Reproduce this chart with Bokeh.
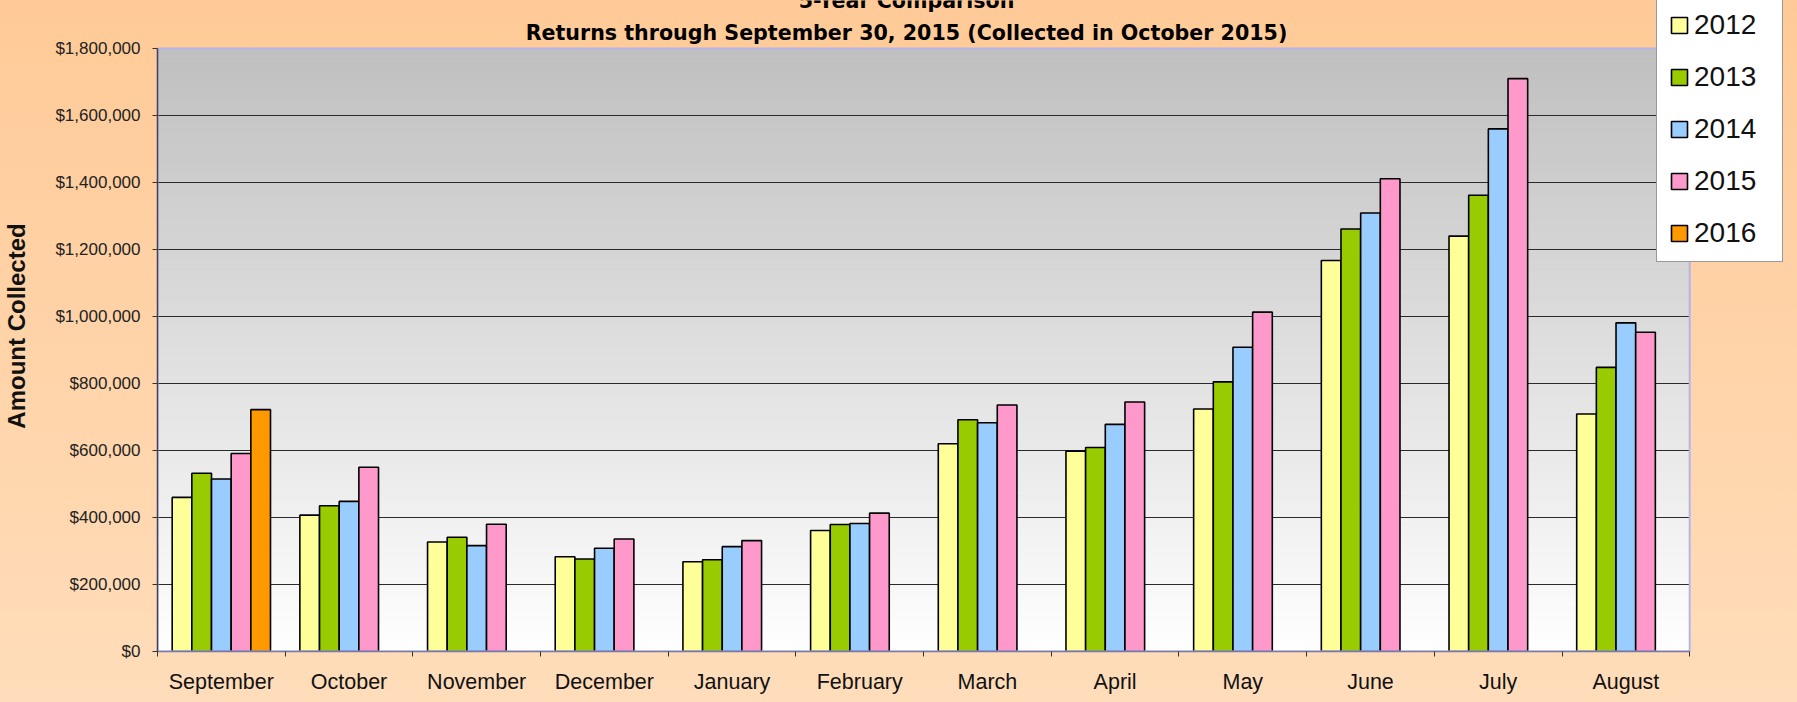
import numpy as np
from bokeh.plotting import figure
from bokeh.models import (Range1d, FixedTicker, NumeralTickFormatter, Legend,
                          LegendItem, Label, ColumnDataSource)
from bokeh.embed import file_html
from bokeh.resources import INLINE

# ---------------- data ----------------
months = ["September", "October", "November", "December", "January", "February",
          "March", "April", "May", "June", "July", "August"]
years = ["2012", "2013", "2014", "2015", "2016"]
v2012 = [460000, 407000, 327000, 283000, 268000, 361000, 620000, 598000, 724000, 1167000, 1240000, 709000]
v2013 = [532000, 435000, 341000, 276000, 274000, 379000, 692000, 609000, 805000, 1261000, 1362000, 848000]
v2014 = [515000, 448000, 316000, 308000, 313000, 382000, 683000, 678000, 908000, 1309000, 1560000, 981000]
v2015 = [591000, 550000, 380000, 336000, 331000, 413000, 736000, 745000, 1013000, 1411000, 1710000, 953000]
v2016 = [722000]  # only September collected so far
y_ticks = [0, 200000, 400000, 600000, 800000, 1000000, 1200000, 1400000, 1600000, 1800000]
title_line1 = "5-Year Comparison"
title_line2 = "Returns through September 30, 2015 (Collected in October 2015)"
y_label = "Amount Collected"

series = [v2012, v2013, v2014, v2015, v2016]
colors = ["#FFFF99", "#99CC00", "#99CCFF", "#FF99CC", "#FF9900"]

# ---------------- layout (pixels) ----------------
W, H = 1797, 702
left_px, right_px, top_px, bottom_px = 154, 1689, 48, 651   # plot area on page
frame_w = W - left_px
frame_h = bottom_px
plot_w = right_px - left_px
plot_h = bottom_px - top_px

n_cat = len(months)
ymax = y_ticks[-1]
x_end = n_cat * frame_w / plot_w
y_end = ymax * frame_h / plot_h

p = figure(width=W, height=H, output_backend="svg", toolbar_location=None,
           x_range=Range1d(0, x_end), y_range=Range1d(0, y_end))
p.min_border_left = left_px
p.min_border_right = 0
p.min_border_top = 0
p.min_border_bottom = H - bottom_px
p.border_fill_alpha = 0
p.background_fill_alpha = 0
p.styles = {"background": "linear-gradient(to bottom, #FFCA97, #FFDDBA)"}
p.outline_line_color = None

# plot-area gradient (white at bottom to grey at top)
nb = 120
edges = np.linspace(0, ymax, nb + 1)
t = (edges[:-1] + edges[1:]) / 2 / ymax
g = (255 - t * (255 - 192)).astype(int)
gcols = ["#%02x%02x%02x" % (v, v, v) for v in g]
p.quad(left=0, right=n_cat, bottom=edges[:-1], top=edges[1:],
       fill_color=gcols, line_color=gcols, line_width=1, level="image")

# horizontal grid lines at the tick values
gy = y_ticks[1:-1]
p.segment(x0=[0] * len(gy), x1=[n_cat] * len(gy), y0=gy, y1=gy,
          line_color="#2a2a2a", line_width=1, level="underlay")

# bars
centers = np.arange(n_cat) + 0.5
bw = 0.154
renderers = []
for k, (vals, col) in enumerate(zip(series, colors)):
    xs = centers[:len(vals)] + (k - 2) * bw
    src = ColumnDataSource(dict(x=xs, top=vals))
    r = p.vbar(x="x", top="top", width=bw, bottom=0, source=src,
               fill_color=col, line_color="black", line_width=1.6)
    renderers.append(r)

# plot-area border (lavender)
p.quad(left=[0], right=[n_cat], bottom=[0], top=[ymax], fill_color=None,
       line_color="#B4B4EA", line_width=2)

# axes
p.xgrid.visible = False
p.ygrid.visible = False

p.yaxis.bounds = (0, ymax)
p.yaxis.ticker = FixedTicker(ticks=y_ticks)
p.yaxis.formatter = NumeralTickFormatter(format="$0,0")
p.yaxis.major_tick_in = 0
p.yaxis.major_tick_out = 5
p.yaxis.minor_tick_out = 0
p.yaxis.minor_tick_in = 0
p.yaxis.major_label_standoff = 12
p.yaxis.major_label_text_font = "Liberation Sans"
p.yaxis.major_label_text_font_size = "17px"
p.yaxis.major_label_text_color = "#222222"
p.yaxis.axis_line_color = "#404060"
p.yaxis.axis_line_width = 1.5
p.yaxis.major_tick_line_color = "#333333"
p.yaxis.axis_label = y_label
p.yaxis.axis_label_text_font = "Liberation Sans"
p.yaxis.axis_label_text_font_size = "24px"
p.yaxis.axis_label_text_font_style = "bold"
p.yaxis.axis_label_text_color = "#111111"
p.yaxis.axis_label_standoff = 22

p.xaxis.bounds = (0, n_cat)
p.xaxis.ticker = FixedTicker(ticks=list(centers), minor_ticks=list(range(n_cat + 1)))
p.xaxis.major_label_overrides = {float(c): m for c, m in zip(centers, months)}
p.xaxis.major_tick_in = 0
p.xaxis.major_tick_out = 0
p.xaxis.minor_tick_in = 0
p.xaxis.minor_tick_out = 5
p.xaxis.minor_tick_line_color = "#333333"
p.xaxis.axis_line_color = "#7878A8"
p.xaxis.axis_line_width = 1.5
p.xaxis.major_label_standoff = 13
p.xaxis.major_label_text_font = "Liberation Sans"
p.xaxis.major_label_text_font_size = "21.5px"
p.xaxis.major_label_text_color = "#111111"

# legend
legend = Legend(items=[LegendItem(label=y, renderers=[r]) for y, r in zip(years, renderers)],
                location=(1653 - left_px, bottom_px - 262), orientation="vertical")
legend.label_text_font = "Liberation Sans"
legend.label_text_font_size = "28px"
legend.label_text_color = "#111111"
legend.glyph_width = 20
legend.glyph_height = 20
legend.label_height = 20
legend.label_width = 76
legend.spacing = 20
legend.padding = 12
legend.margin = 0
legend.label_standoff = 5
legend.border_line_color = "#333333"
legend.border_line_width = 1.5
legend.background_fill_color = "white"
legend.background_fill_alpha = 1
p.add_layout(legend)

# titles
title_cx = 903 - left_px
for txt, ypage in [(title_line1, 0), (title_line2, 32)]:
    p.add_layout(Label(x=title_cx, y=bottom_px - ypage, x_units="screen", y_units="screen",
                       text=txt, text_align="center", text_baseline="middle",
                       text_font="DejaVu Sans", text_font_style="bold",
                       text_font_size="20.6px", text_color="black"))

open("out.html", "w").write(file_html(p, INLINE))
